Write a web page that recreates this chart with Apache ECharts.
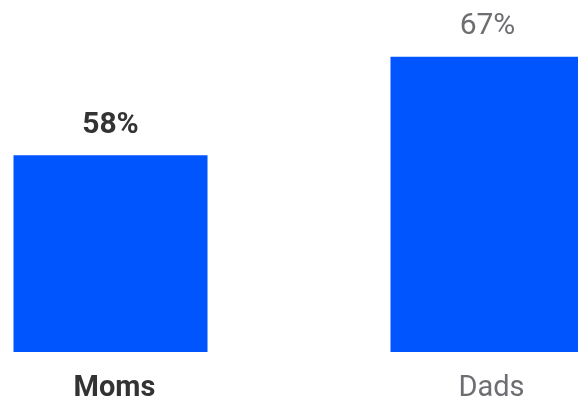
<!DOCTYPE html>
<html>
<head>
<meta charset="utf-8">
<script src="https://cdn.jsdelivr.net/npm/echarts@6/dist/echarts.min.js"></script>
<style>
  html, body { margin: 0; padding: 0; background: #fff; }
  #chart { width: 578px; height: 401px; }
</style>
</head>
<body>
<div id="chart"></div>
<script>
// groups and their shares (%)
const groups = ['Moms', 'Dads'];
const shares = [58, 67];

const barColor = '#0055ff';
const font = 'Roboto';

var chart = echarts.init(document.getElementById('chart'));

// first group is highlighted (bold, dark), others muted
const labelStyles = {
  hi: { fontWeight: 'bold', color: '#333333' },
  lo: { fontWeight: 'normal', color: '#6e6e72' }
};

var option = {
  animation: false,
  // wide grid so the second bar runs past the right edge like the original
  grid: { left: -78, right: -98, top: 24, bottom: 49, outerBoundsMode: 'none', containLabel: false },
  xAxis: {
    type: 'category',
    data: groups,
    axisLine: { show: false },
    axisTick: { show: false },
    axisLabel: {
      margin: 22,
      fontFamily: font,
      fontSize: 29,
      formatter: (v, i) => i === 0 ? '{hi|' + v + '}' : '{lo|' + v + '}',
      rich: {
        hi: Object.assign({ fontFamily: font, fontSize: 29, padding: [0, 0, 0, 8] }, labelStyles.hi),
        lo: Object.assign({ fontFamily: font, fontSize: 29, padding: [0, 0, 0, 8] }, labelStyles.lo)
      }
    }
  },
  yAxis: {
    type: 'value',
    min: 40,
    max: 70,
    show: false
  },
  series: [{
    type: 'bar',
    barWidth: 194,
    data: shares.map((v, i) => ({
      value: v,
      label: Object.assign({}, i === 0 ? labelStyles.hi : labelStyles.lo)
    })),
    itemStyle: { color: barColor },
    label: {
      show: true,
      position: 'top',
      distance: 15,
      fontFamily: font,
      fontSize: 30,
      formatter: '{c}%'
    }
  }]
};

chart.setOption(option);
</script>
</body>
</html>
